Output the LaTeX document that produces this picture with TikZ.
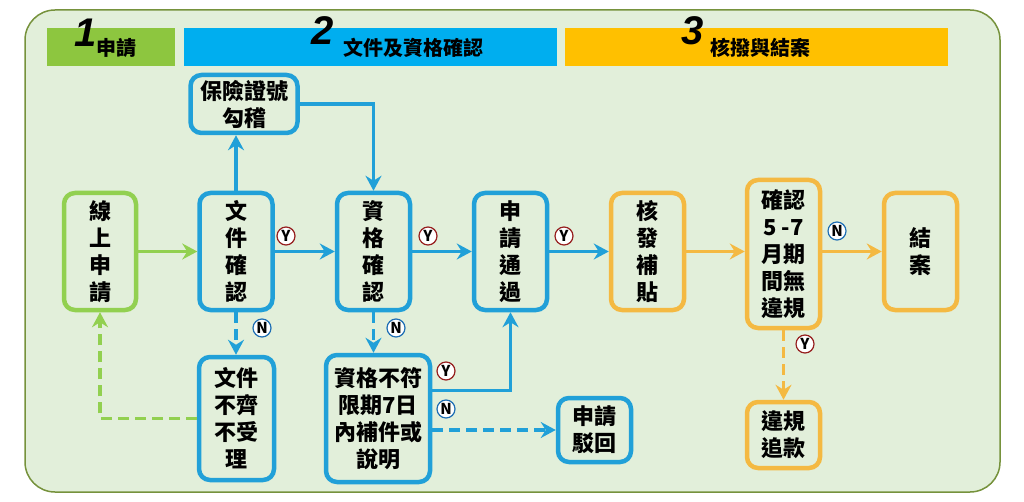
\documentclass[tikz,border=0pt]{standalone}
\usepackage{fontspec}
\setmainfont{Noto Sans CJK TC}[BoldFont={Noto Sans CJK TC Black}]
\newfontfamily\numfont{Liberation Sans}
\usetikzlibrary{arrows.meta, positioning}

\definecolor{bgfill}{RGB}{226,239,218}
\definecolor{frameline}{RGB}{118,146,60}
\definecolor{barGreen}{RGB}{141,198,63}
\definecolor{barBlue}{RGB}{0,174,239}
\definecolor{barYellow}{RGB}{255,192,0}
\definecolor{lineGreen}{RGB}{146,208,80}
\definecolor{lineBlue}{RGB}{33,160,216}
\definecolor{lineOrange}{RGB}{244,185,66}
\definecolor{markY}{RGB}{150,30,30}
\definecolor{markN}{RGB}{30,110,180}

\begin{document}
\begin{tikzpicture}[x=1pt, y=-1pt,
    box/.style = {draw, line width=4.5pt, rounded corners=11pt, align=center,
        inner sep=0pt, font=\bfseries\fontsize{22}{27}\selectfont},
    gbox/.style = {box, draw=lineGreen},
    bbox/.style = {box, draw=lineBlue},
    obox/.style = {box, draw=lineOrange},
    flow/.style = {line width=3.2pt, -{Stealth[length=15pt, width=16pt, inset=5pt]}},
    dashflow/.style = {flow, dash pattern=on 11pt off 6pt},
    hnum/.style = {font=\numfont\bfseries\itshape\fontsize{40}{40}\selectfont, inner sep=0pt},
    htext/.style = {anchor=west, inner sep=0pt, font=\bfseries\fontsize{20}{20}\selectfont},
    tag/.style = {circle, draw, fill=white, line width=1.2pt, inner sep=0pt, minimum size=18pt,
        font=\bfseries\fontsize{15}{15}\selectfont},
    tagyes/.style = {tag, draw=markY},
    tagno/.style = {tag, draw=markN}]

    \useasboundingbox (0,0) rectangle (1024,502);
    \draw[fill=bgfill, draw=frameline, line width=1.5pt, rounded corners=30pt] (25,10) rectangle (1000,492);

    % header bars
    \fill[barGreen] (47,28) rectangle (175,66);
    \fill[barBlue] (184,28) rectangle (557,66);
    \fill[barYellow] (565,28) rectangle (948,66);
    \node[hnum] (n1) at (86,33) {1};
    \node[htext] (h1) at (96,48) {申請};
    \node[hnum] (n2) at (323,31) {2};
    \node[htext] (h2) at (343,48) {文件及資格確認};
    \node[hnum] (n3) at (693,31) {3};
    \node[htext] (h3) at (710,48) {核撥與結案};

    % boxes
    \node[gbox, minimum width=72pt, minimum height=117pt] (apply) at (100,251.5) {線\\上\\申\\請};
    \node[bbox, minimum width=73pt, minimum height=117pt] (doc) at (236,251.5) {文\\件\\確\\認};
    \node[bbox, minimum width=107pt, minimum height=58pt] (ins) at (244,104) {保險證號\\勾稽};
    \node[bbox, minimum width=73pt, minimum height=117pt] (qual) at (373.5,251.5) {資\\格\\確\\認};
    \node[bbox, minimum width=73pt, minimum height=117pt] (pass) at (510.5,251.5) {申\\請\\通\\過};
    \node[obox, minimum width=73pt, minimum height=117pt] (grant) at (647.5,251.5) {核\\發\\補\\貼};
    \node[obox, minimum width=73pt, minimum height=148pt] (check) at (783.5,254) {確認\\5 -7\\月期\\間無\\違規};
    \node[obox, minimum width=73pt, minimum height=117pt] (close) at (920.5,251.5) {結\\案};
    \node[bbox, minimum width=75pt, minimum height=123pt] (lack) at (236.5,418.5) {文件\\不齊\\不受\\理};
    \node[bbox, minimum width=104pt, minimum height=127pt] (fix) at (378,418.5) {資格不符\\限期7日\\內補件或\\說明};
    \node[bbox, minimum width=73pt, minimum height=64pt] (reject) at (594.5,430) {申請\\駁回};
    \node[obox, minimum width=73pt, minimum height=66pt] (refund) at (783.5,435) {違規\\追款};

    % connectors
    \draw[flow, lineGreen] (apply) -- (doc);
    \draw[flow, lineBlue] (doc) -- (qual);
    \draw[flow, lineBlue] (qual) -- (pass);
    \draw[flow, lineBlue] (pass) -- (grant);
    \draw[flow, lineOrange] (grant.east) -- (check.west |- grant.east);
    \draw[flow, lineOrange] (check.east |- close.west) -- (close.west);
    \draw[flow, lineBlue] (doc.north) -- (doc.north |- ins.south);
    \draw[flow, lineBlue] (ins.east) -| (qual.north);
    \draw[dashflow, lineBlue] (doc.south) -- (doc.south |- lack.north);
    \draw[dashflow, lineBlue] (qual.south) -- (qual.south |- fix.north);
    \draw[flow, lineBlue] ([yshift=28pt]fix.east) -| (pass.south);
    \draw[dashflow, lineBlue] (fix.east |- reject.west) -- (reject.west);
    \draw[dashflow, lineGreen] (lack.west) -| (apply.south);
    \draw[dashflow, lineOrange] (check.south) -- (refund.north);

    % Y / N marks
    \node[tagyes] (y1) at (286,236) {Y};
    \node[tagyes] (y2) at (428,236) {Y};
    \node[tagyes] (y3) at (564,236) {Y};
    \node[tagno] (n4) at (837,231) {N};
    \node[tagyes] (y5) at (805,344) {Y};
    \node[tagno] (n6) at (262,328) {N};
    \node[tagno] (n7) at (396,328) {N};
    \node[tagyes] (y8) at (446,371) {Y};
    \node[tagno] (n9) at (446,409) {N};
\end{tikzpicture}
\end{document}
